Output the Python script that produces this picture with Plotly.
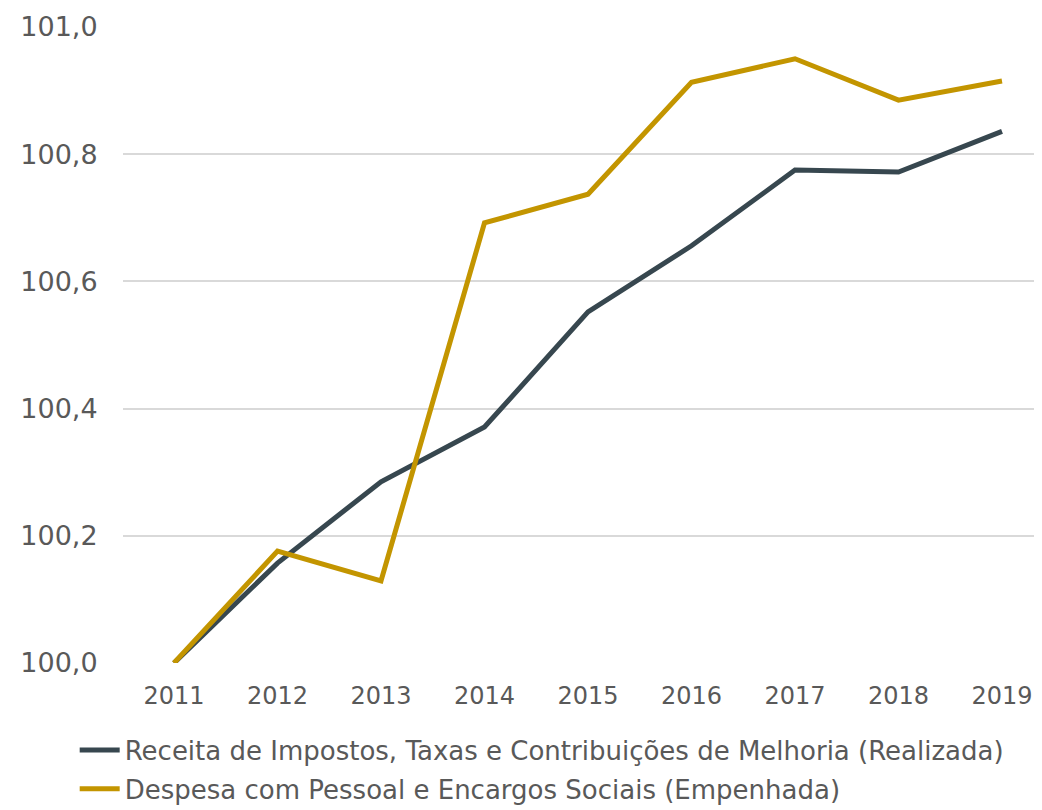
import plotly.graph_objects as go

years = [2011, 2012, 2013, 2014, 2015, 2016, 2017, 2018, 2019]
receita = [100.0, 100.157, 100.285, 100.371, 100.552, 100.656, 100.775, 100.772, 100.836]
despesa = [100.0, 100.176, 100.129, 100.692, 100.737, 100.913, 100.950, 100.885, 100.915]
name_receita = "Receita de Impostos, Taxas e Contribuições de Melhoria (Realizada)"
name_despesa = "Despesa com Pessoal e Encargos Sociais (Empenhada)"
tick_vals = [100.0, 100.2, 100.4, 100.6, 100.8, 101.0]

FONT = "DejaVu Sans"
TXT = "#595959"
STEP = 103.5  # px per year

fig = go.Figure()
fig.add_trace(go.Scatter(x=years, y=receita, mode="lines", name=name_receita, legendgroup="a",
                         line=dict(color="#37474f", width=5)))
fig.add_trace(go.Scatter(x=years, y=despesa, mode="lines", name=name_despesa, legendgroup="b",
                         line=dict(color="#c39500", width=5)))

fig.update_layout(
    width=1026, height=802,
    margin=dict(l=115, r=0, t=19, b=147, autoexpand=False),
    plot_bgcolor="white", paper_bgcolor="white",
    separators=",.",
    font=dict(family=FONT, color=TXT, size=24),
    xaxis=dict(range=[2011 - 51 / STEP, 2019 + 32 / STEP], tickvals=years,
               ticktext=[str(y) for y in years],
               tickangle=0, automargin=False,
               showgrid=False, zeroline=False, showline=False, ticks="outside", ticklen=11,
               tickcolor="rgba(0,0,0,0)",
               tickfont=dict(size=24, color=TXT)),
    yaxis=dict(range=[100.0, 101.0], tickvals=tick_vals, tickformat=".1f", automargin=False,
               showgrid=True, gridcolor="#d9d9d9", gridwidth=2, zeroline=False, showline=False,
               ticks="outside", ticklen=19, tickcolor="rgba(0,0,0,0)",
               tickfont=dict(size=27, color=TXT)),
    legend=dict(xref="container", yref="container", x=0.065, y=0.104, xanchor="left", yanchor="top",
                font=dict(size=26, color=TXT), orientation="v", tracegroupgap=2,
                itemwidth=40, bgcolor="rgba(0,0,0,0)"),
    showlegend=True,
)

fig.write_html("out.html")
